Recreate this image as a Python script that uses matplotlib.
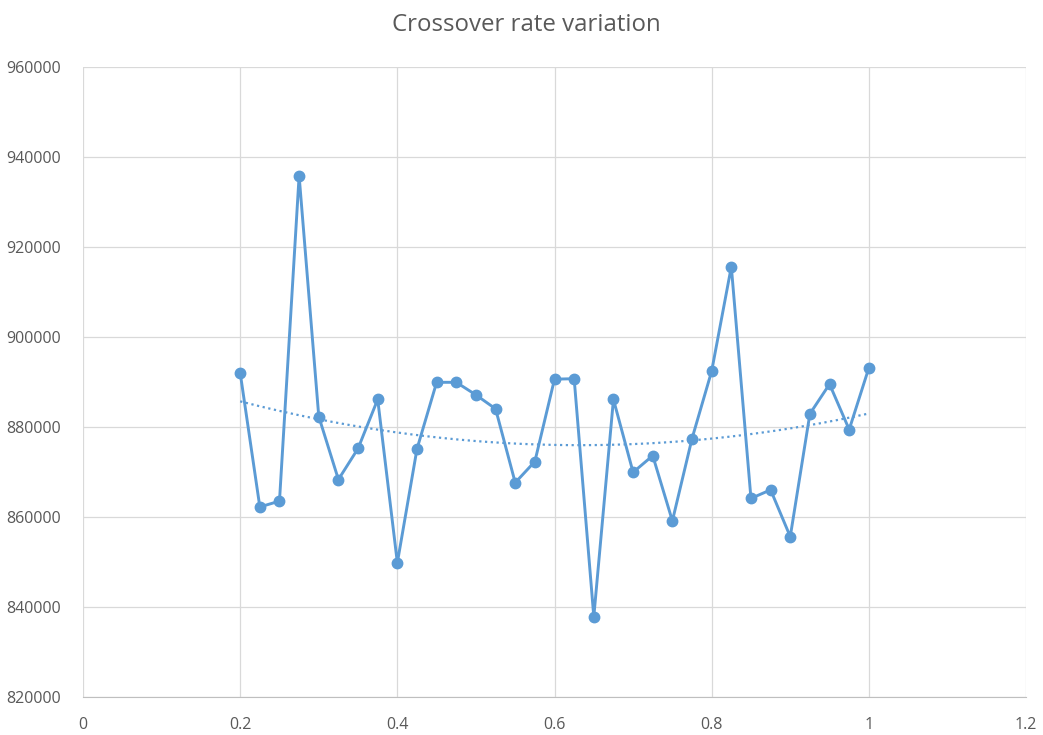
import numpy as np
import matplotlib
matplotlib.use("Agg")
import matplotlib.pyplot as plt

# crossover rate vs. result
rates = [0.2, 0.225, 0.25, 0.275, 0.3, 0.325, 0.35, 0.375, 0.4, 0.425, 0.45,
         0.475, 0.5, 0.525, 0.55, 0.575, 0.6, 0.625, 0.65, 0.675, 0.7, 0.725,
         0.75, 0.775, 0.8, 0.825, 0.85, 0.875, 0.9, 0.925, 0.95, 0.975, 1.0]
values = [892100, 862300, 863600, 935900, 882400, 868400, 875300, 886200,
          849900, 875200, 890000, 890000, 887200, 884100, 867700, 872400,
          890700, 890800, 837900, 886200, 870000, 873700, 859200, 877500,
          892500, 915700, 864200, 866100, 855700, 883000, 889600, 879500,
          893200]

x_ticks = [0, 0.2, 0.4, 0.6, 0.8, 1.0, 1.2]
x_tick_labels = ["0", "0.2", "0.4", "0.6", "0.8", "1", "1.2"]
y_ticks = list(range(820000, 960001, 20000))

blue = "#5B9BD5"
grey_text = "#595959"
grid_col = "#D9D9D9"

plt.rcParams["font.family"] = ["Open Sans", "DejaVu Sans"]

fig = plt.figure(figsize=(10.43, 7.35), dpi=100)
ax = fig.add_axes([0.0796, 0.0513, 0.9041, 0.8571])

ax.plot(rates, values, color=blue, linewidth=2.1, marker="o",
        markersize=7.5, zorder=3)

# 2nd order polynomial trendline
coef = np.polyfit(rates, values, 2)
xs = np.linspace(rates[0], rates[-1], 200)
ax.plot(xs, np.polyval(coef, xs), color=blue, linewidth=1.6,
        linestyle=(0, (1, 1.6)), zorder=2)

ax.set_xlim(0, 1.2)
ax.set_ylim(820000, 960000)
ax.set_xticks(x_ticks)
ax.set_xticklabels(x_tick_labels)
ax.set_yticks(y_ticks)
ax.set_yticklabels([str(v) for v in y_ticks])

ax.grid(True, color=grid_col, linewidth=0.9)
ax.set_axisbelow(True)
for side in ["top", "right", "left"]:
    ax.spines[side].set_visible(False)
ax.spines["bottom"].set_color("#BFBFBF")
ax.tick_params(length=0, labelsize=11.5, labelcolor=grey_text)
ax.tick_params(axis="x", pad=14)
ax.tick_params(axis="y", pad=16)

fig.suptitle("Crossover rate variation", x=0.505, y=0.982, fontsize=17.3,
             color=grey_text)

fig.savefig("out.png", dpi=100)
